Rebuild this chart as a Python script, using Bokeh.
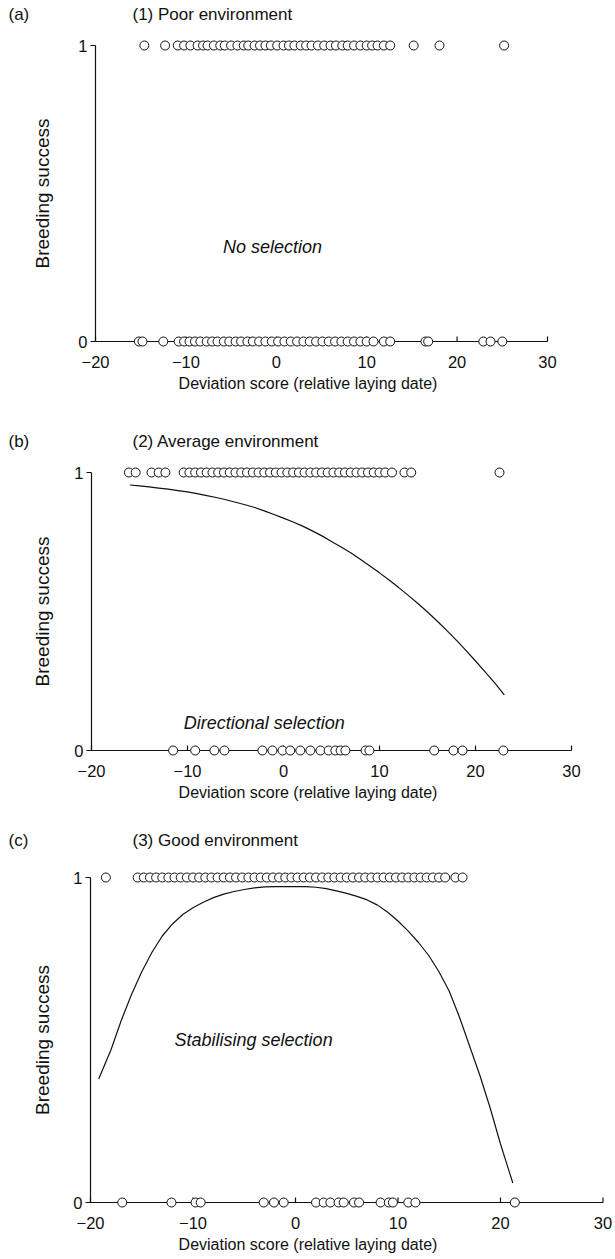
import math
from bokeh.plotting import figure
from bokeh.models import Range1d, FixedTicker
from bokeh.layouts import column
from bokeh.embed import file_html
from bokeh.resources import INLINE
from bokeh.core.properties import value

# ---------------- data ----------------
x_ticks = [-20, -10, 0, 10, 20, 30]
x_tick_labels = ["\u221220", "\u221210", "0", "10", "20", "30"]
y_ticks = [0, 1]
y_tick_labels = ["0", "1"]

panel_letters = ["(a)", "(b)", "(c)"]
panel_titles = ["(1) Poor environment", "(2) Average environment", "(3) Good environment"]
selection_notes = ["No selection", "Directional selection", "Stabilising  selection"]
x_axis_title = "Deviation score (relative laying date)"
y_axis_title = "Breeding success"

# (1) poor environment
a_success = [-14.6, -12.3, -10.9, -10.2, -9.5, -8.7, -8.1, -7.6, -6.9, -6.2, -5.7, -5.0,
             -4.3, -3.6, -3.1, -2.4, -1.8, -1.2, -0.6, 0.1, 0.8, 1.4, 2.0, 2.7, 3.3,
             3.9, 4.6, 5.3, 6.0, 6.6, 7.3, 7.9, 8.6, 9.3, 10.0, 10.6, 11.2, 11.9,
             12.6, 15.2, 18.05, 25.2]
a_failure = [-15.2, -14.8, -12.5, -10.8, -10.2, -9.6, -9.0, -8.4, -7.7, -7.1, -6.5,
             -5.8, -5.2, -4.5, -3.9, -3.2, -2.6, -1.9, -1.2, -0.5, 0.2, 0.9, 1.6, 2.3,
             3.0, 3.7, 4.4, 5.1, 5.8, 6.5, 7.2, 7.9, 8.6, 9.3, 10.0, 10.75, 11.9, 12.6,
             16.5, 16.8, 22.9, 23.7, 25.0]

# (2) average environment
b_success = [-16.1, -15.4, -13.75, -13.0, -12.3, -10.4, -9.8, -9.2, -8.6, -8.0, -7.4,
             -6.8, -6.2, -5.6, -5.0, -4.4, -3.8, -3.2, -2.6, -2.0, -1.4, -0.8, -0.2,
             0.4, 1.0, 1.6, 2.2, 2.8, 3.4, 4.0, 4.6, 5.2, 5.8, 6.4, 7.0, 7.6, 8.2,
             8.8, 9.4, 10.0, 10.6, 11.3, 12.6, 13.3, 22.5]
b_failure = [-11.5, -9.2, -7.2, -6.15, -2.2, -1.15, -0.1, 0.7, 1.75, 2.8, 3.85, 4.7,
             5.4, 5.95, 6.45, 8.55, 8.95, 15.7, 17.7, 18.65, 22.9]
b_curve_x = [-16, -15, -14, -13, -12, -11, -10, -9, -8, -7, -6, -5, -4, -3, -2, -1, 0,
             1, 2, 3, 4, 5, 6, 7, 8, 9, 10, 11, 12, 13, 14, 15, 16, 17, 18, 19, 20,
             21, 22, 23]
b_curve_y = [0.955, 0.952, 0.948, 0.944, 0.940, 0.935, 0.930, 0.924, 0.917, 0.910,
             0.902, 0.893, 0.884, 0.874, 0.862, 0.849, 0.836, 0.822, 0.807, 0.790,
             0.772, 0.752, 0.732, 0.711, 0.688, 0.664, 0.639, 0.613, 0.586, 0.558,
             0.529, 0.498, 0.466, 0.432, 0.397, 0.360, 0.322, 0.283, 0.243, 0.20]

# (3) good environment
c_success = [-18.5, -15.4, -14.8, -14.2, -13.6, -13.0, -12.4, -11.8, -11.2, -10.6,
             -10.0, -9.4, -8.8, -8.2, -7.6, -7.0, -6.4, -5.8, -5.2, -4.6, -4.0, -3.4,
             -2.8, -2.2, -1.6, -1.0, -0.4, 0.2, 0.8, 1.4, 2.0, 2.6, 3.2, 3.8, 4.4,
             5.0, 5.6, 6.2, 6.8, 7.4, 8.0, 8.6, 9.2, 9.8, 10.4, 11.0, 11.6, 12.2,
             12.8, 13.4, 14.0, 14.6, 15.6, 16.3]
c_failure = [-16.9, -12.1, -9.75, -9.25, -3.1, -2.1, -1.15, 2.0, 2.75, 3.4, 4.2, 4.7,
             5.7, 6.2, 8.3, 9.1, 9.5, 11.0, 11.7, 21.4]
c_curve_x = [-19.2, -18, -17, -16, -15, -14, -13, -12, -11, -10, -9, -8, -7, -6, -5,
             -4, -3, -2, -1, 0, 1, 2, 3, 4, 5, 6, 7, 8, 9, 10, 11, 12, 13, 14, 15,
             16, 17, 18, 19, 20, 21.2]
c_curve_y = [0.38, 0.47, 0.56, 0.64, 0.71, 0.77, 0.82, 0.857, 0.886, 0.907, 0.924,
             0.938, 0.949, 0.957, 0.963, 0.968, 0.971, 0.972, 0.972, 0.972, 0.972,
             0.970, 0.966, 0.959, 0.951, 0.942, 0.931, 0.915, 0.893, 0.866, 0.835,
             0.80, 0.76, 0.71, 0.65, 0.57, 0.48, 0.39, 0.29, 0.18, 0.06]

# ---------------- layout (pixel geometry of each panel) ----------------
W = 615
FONT = "Liberation Sans"
INK = "#111111"
TICK_FS = "16.5px"
XLAB_FS = "16px"
YLAB_FS = "19px"
TITLE_FS = "17px"
NOTE_FS = "18px"

# top: figure top; x0px: pixel of x=-20; sx: px per unit; y1/y0: pixel rows of 1 and 0
specs = [
    dict(top=0, h=420, x0px=95, sx=9.04, y1=45, y0=341, title=14, note=(-5.9, 0.32)),
    dict(top=420, h=400, x0px=91, sx=9.60, y1=472, y0=750, title=441, note=(-10.4, 0.10)),
    dict(top=820, h=439, x0px=90, sx=10.25, y1=877, y0=1202, title=840, note=(-11.8, 0.5)),
]

datasets = [
    (a_success, a_failure, None, None),
    (b_success, b_failure, b_curve_x, b_curve_y),
    (c_success, c_failure, c_curve_x, c_curve_y),
]


def make_panel(i):
    s = specs[i]
    succ, fail, cx, cy = datasets[i]
    H = s["h"]
    x0px, sx = s["x0px"], s["sx"]
    y1 = s["y1"] - s["top"]
    y0 = s["y0"] - s["top"]
    sy = y0 - y1
    frame_bottom = y0 + 8
    xs = -20 - x0px / sx
    xe = -20 + (W - x0px) / sx
    ys = -(frame_bottom - y0) / sy
    ye = 1 + y1 / sy

    p = figure(width=W, height=H, x_range=Range1d(xs, xe), y_range=Range1d(ys, ye),
               output_backend="svg", toolbar_location=None,
               min_border_left=0, min_border_right=0, min_border_top=0,
               min_border_bottom=int(H - frame_bottom))
    p.outline_line_color = None
    p.xgrid.visible = False
    p.ygrid.visible = False
    p.yaxis.visible = False
    p.background_fill_color = "white"
    p.border_fill_color = "white"

    xa = p.xaxis[0]
    xa.ticker = FixedTicker(ticks=x_ticks)
    xa.major_label_overrides = {t: l for t, l in zip(x_ticks, x_tick_labels)}
    xa.axis_line_color = None
    xa.major_tick_line_color = None
    xa.minor_tick_line_color = None
    xa.major_label_standoff = 0
    xa.major_label_text_font = FONT
    xa.major_label_text_font_size = TICK_FS
    xa.major_label_text_color = INK
    xa.axis_label = x_axis_title
    xa.axis_label_standoff = 4
    xa.axis_label_text_font = FONT
    xa.axis_label_text_font_size = XLAB_FS
    xa.axis_label_text_font_style = "normal"
    xa.axis_label_text_color = INK

    x_left, x_right = x_ticks[0], x_ticks[-1]
    y_bot, y_top = y_ticks[0], y_ticks[-1]

    # axis lines spanning exactly -20..30 and 0..1
    p.line(x=[x_left, x_right], y=[y_bot, y_bot], line_color=INK, line_width=1.2)
    p.line(x=[x_left, x_left], y=[y_bot, y_top], line_color=INK, line_width=1.2)
    # inward x ticks, outward y ticks
    p.segment(x0=x_ticks, y0=[y_bot] * len(x_ticks), x1=x_ticks,
              y1=[y_bot + 5.0 / sy] * len(x_ticks), line_color=INK, line_width=1.2)
    p.segment(x0=[x_left - 5.0 / sx] * len(y_ticks), y0=y_ticks,
              x1=[x_left] * len(y_ticks), y1=y_ticks, line_color=INK, line_width=1.2)
    p.text(x=[x_left - 8.0 / sx] * len(y_ticks), y=y_ticks, text=y_tick_labels,
           text_font=value(FONT), text_font_size=TICK_FS, text_color=INK,
           text_align="right", text_baseline="middle")
    # y axis title
    p.text(x=[x_left + (42 - x0px) / sx], y=[(y_bot + y_top) / 2], text=[y_axis_title],
           angle=math.pi / 2, text_font=value(FONT), text_font_size=YLAB_FS,
           text_color=INK, text_align="center", text_baseline="middle")

    if cx is not None:
        p.line(cx, cy, line_color=INK, line_width=1.2)

    p.scatter(succ, [y_top] * len(succ), size=9, marker="circle", fill_color="white",
              line_color=INK, line_width=1)
    p.scatter(fail, [y_bot] * len(fail), size=9, marker="circle", fill_color="white",
              line_color=INK, line_width=1)

    nx, ny = s["note"]
    p.text(x=[nx], y=[ny], text=[selection_notes[i]], text_font=value(FONT),
           text_font_style="italic", text_font_size=NOTE_FS, text_color=INK,
           text_baseline="middle", text_align="left")

    ty = y_top + (s["y1"] - s["title"]) / sy
    p.text(x=[x_left + (8 - x0px) / sx, x_left + (132 - x0px) / sx], y=[ty, ty],
           text=[panel_letters[i], panel_titles[i]], text_font=value(FONT),
           text_font_size=TITLE_FS, text_color=INK, text_baseline="middle",
           text_align="left")
    return p


panels = [make_panel(i) for i in range(3)]
layout = column(*panels, spacing=0)
open("out.html", "w").write(file_html(layout, INLINE))
